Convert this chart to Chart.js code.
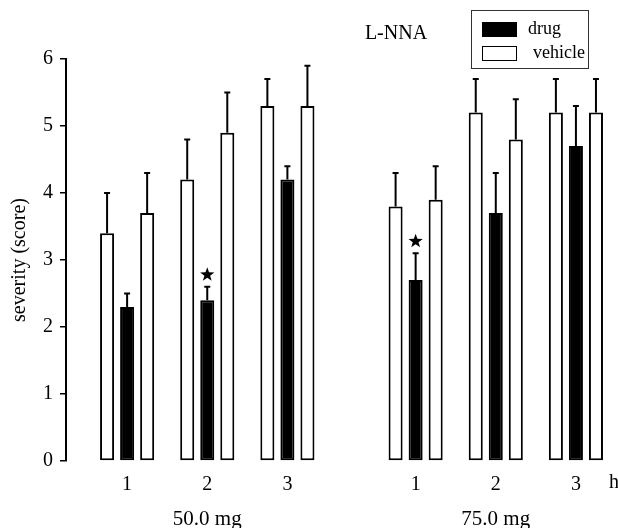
<!DOCTYPE html>
<html>
<head>
<meta charset="utf-8">
<script src="https://cdn.jsdelivr.net/npm/chart.js@4.4.1/dist/chart.umd.min.js"></script>
<style>
  html, body { margin: 0; padding: 0; background: #fff; }
  #wrap { width: 618px; height: 528px; position: relative; }
</style>
</head>
<body>
<div id="wrap"><canvas id="grafica"></canvas></div>
<script>
// hora de cada grupo de barras (eje x lineal, con hueco entre dosis)
const hourX = [1, 2, 3, 4.6, 5.6, 6.6];
const hourLabels = ['1', '2', '3', '1', '2', '3'];
const doseLabels = ['50.0 mg', '75.0 mg'];
const yTicks = [0, 1, 2, 3, 4, 5, 6];

const vehiclePre = [3.4, 4.2, 5.3, 3.8, 5.2, 5.2];
const vehiclePreErr = [0.6, 0.6, 0.4, 0.5, 0.5, 0.5];
const drug = [2.3, 2.4, 4.2, 2.7, 3.7, 4.7];
const drugErr = [0.2, 0.2, 0.2, 0.4, 0.6, 0.6];
const vehiclePost = [3.7, 4.9, 5.3, 3.9, 4.8, 5.2];
const vehiclePostErr = [0.6, 0.6, 0.6, 0.5, 0.6, 0.5];
// estrella de significancia sobre la barra del farmaco
const drugSignif = [false, true, false, true, false, false];

const SERIF = '"Liberation Serif", "DejaVu Serif", serif';

function puntos(vals) {
    return vals.map((v, i) => ({ x: hourX[i], y: v }));
}

function estrella(ctx, cx, cy, rOut, rIn) {
    ctx.beginPath();
    for (let k = 0; k < 10; k++) {
        const r = k % 2 === 0 ? rOut : rIn;
        const a = -Math.PI / 2 + k * Math.PI / 5;
        const px = cx + r * Math.cos(a);
        const py = cy + r * Math.sin(a);
        if (k === 0) ctx.moveTo(px, py); else ctx.lineTo(px, py);
    }
    ctx.closePath();
    ctx.fill();
}

const extras = {
    id: 'extras',
    afterDatasetsDraw(chart) {
        const ctx = chart.ctx;
        const y = chart.scales.y;
        const x = chart.scales.x;
        ctx.save();
        ctx.strokeStyle = '#000';
        ctx.fillStyle = '#000';
        ctx.lineWidth = 2;
        // barras de error (solo hacia arriba)
        chart.data.datasets.forEach((ds, i) => {
            const meta = chart.getDatasetMeta(i);
            meta.data.forEach((bar, j) => {
                const top = y.getPixelForValue(ds.data[j].y + ds.errors[j]);
                ctx.beginPath();
                ctx.moveTo(bar.x, bar.y);
                ctx.lineTo(bar.x, top);
                ctx.moveTo(bar.x - 3, top);
                ctx.lineTo(bar.x + 3, top);
                ctx.stroke();
                if (ds.signif && ds.signif[j]) {
                    estrella(ctx, bar.x, top - 12, 7.5, 3);
                }
            });
        });
        // etiquetas de dosis y unidad
        ctx.textBaseline = 'middle';
        ctx.font = '21px ' + SERIF;
        ctx.textAlign = 'center';
        ctx.fillText(doseLabels[0], x.getPixelForValue(hourX[1]), 519);
        ctx.fillText(doseLabels[1], x.getPixelForValue(hourX[4]), 519);
        ctx.font = '20px ' + SERIF;
        ctx.textAlign = 'left';
        ctx.fillText('h', 609, 483);
        // titulo
        ctx.textAlign = 'center';
        ctx.fillText('L-NNA', 396, 34);
        // leyenda
        ctx.font = '18px ' + SERIF;
        ctx.lineWidth = 1;
        ctx.strokeStyle = '#333';
        ctx.strokeRect(471.5, 10.5, 117, 58);
        const entradas = [chart.data.datasets[1], chart.data.datasets[0]];
        entradas.forEach((ds, k) => {
            const top = k === 0 ? 22 : 46;
            ctx.fillStyle = ds.backgroundColor;
            ctx.fillRect(482, top, 35, 15);
            ctx.strokeStyle = '#000';
            ctx.strokeRect(482.5, top + 0.5, 34, 14);
            ctx.fillStyle = '#000';
            ctx.textAlign = 'left';
            ctx.fillText(ds.label, k === 0 ? 528 : 533, top + 7);
        });
        ctx.restore();
    }
};

const comun = { borderColor: '#000', borderWidth: 2, borderSkipped: false,
    barPercentage: 0.7, categoryPercentage: 0.75 };

new Chart(document.getElementById('grafica'), {
    type: 'bar',
    data: {
        datasets: [
            Object.assign({ label: 'vehicle', data: puntos(vehiclePre), errors: vehiclePreErr,
                backgroundColor: '#fff' }, comun),
            Object.assign({ label: 'drug', data: puntos(drug), errors: drugErr, signif: drugSignif,
                backgroundColor: '#000' }, comun),
            Object.assign({ label: 'vehicle', data: puntos(vehiclePost), errors: vehiclePostErr,
                backgroundColor: '#fff' }, comun)
        ]
    },
    options: {
        responsive: true,
        maintainAspectRatio: false,
        animation: false,
        layout: { padding: { top: 59, right: 0, left: 0, bottom: 0 } },
        plugins: {
            legend: { display: false },
            tooltip: { enabled: false }
        },
        scales: {
            x: {
                type: 'linear',
                offset: false,
                min: 0.2375,
                max: 7.125,
                afterBuildTicks: s => { s.ticks = hourX.map(v => ({ value: v })); },
                afterFit: s => { s.height = 67; },
                grid: { display: false },
                border: { display: false },
                ticks: {
                    autoSkip: false,
                    maxRotation: 0,
                    padding: 4,
                    color: '#000',
                    font: { family: SERIF, size: 20 },
                    callback: (v, i) => hourLabels[i]
                }
            },
            y: {
                min: 0,
                max: 6,
                afterBuildTicks: s => { s.ticks = yTicks.map(v => ({ value: v })); },
                afterFit: s => { s.width = 66; },
                grid: { display: true, drawOnChartArea: false, drawTicks: true,
                    tickLength: 6, color: '#000', lineWidth: 1.5 },
                border: { display: true, color: '#000', width: 2 },
                ticks: {
                    padding: 7,
                    color: '#000',
                    font: { family: SERIF, size: 20 }
                },
                title: {
                    display: true,
                    text: 'severity (score)',
                    color: '#000',
                    padding: { top: 8, bottom: 0 },
                    font: { family: SERIF, size: 20 }
                }
            }
        }
    },
    plugins: [extras]
});
</script>
</body>
</html>
